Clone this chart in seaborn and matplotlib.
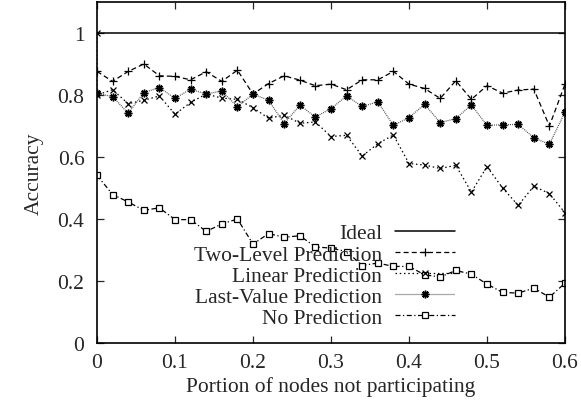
import matplotlib
matplotlib.use("Agg")
import matplotlib.pyplot as plt
import seaborn as sns
import pandas as pd
from matplotlib.ticker import FuncFormatter

# ---- data ----
x_vals = [0.00, 0.02, 0.04, 0.06, 0.08, 0.10, 0.12, 0.14, 0.16, 0.18,
          0.20, 0.22, 0.24, 0.26, 0.28, 0.30, 0.32, 0.34, 0.36, 0.38,
          0.40, 0.42, 0.44, 0.46, 0.48, 0.50, 0.52, 0.54, 0.56, 0.58, 0.60]
ideal_x = [0.0, 0.6]
ideal_y = [1.0, 1.0]
two_level = [0.876, 0.844, 0.876, 0.900, 0.862, 0.860, 0.849, 0.875, 0.844, 0.880,
             0.803, 0.837, 0.862, 0.848, 0.830, 0.835, 0.817, 0.849, 0.849, 0.876,
             0.835, 0.821, 0.789, 0.846, 0.786, 0.830, 0.806, 0.816, 0.819, 0.700, 0.835]
linear_x = [0.00] + x_vals
linear = [1.000, 0.800, 0.817, 0.772, 0.783, 0.797, 0.738, 0.776, 0.803, 0.790, 0.786,
          0.759, 0.725, 0.735, 0.709, 0.713, 0.666, 0.670, 0.603, 0.643, 0.671,
          0.579, 0.574, 0.563, 0.573, 0.487, 0.569, 0.500, 0.444, 0.506, 0.482, 0.420]
last_value = [0.805, 0.795, 0.741, 0.808, 0.824, 0.789, 0.819, 0.803, 0.813, 0.762,
              0.803, 0.783, 0.708, 0.767, 0.729, 0.756, 0.797, 0.763, 0.778, 0.702,
              0.727, 0.770, 0.711, 0.724, 0.768, 0.702, 0.704, 0.705, 0.662, 0.641, 0.745]
no_pred = [0.541, 0.479, 0.455, 0.428, 0.436, 0.398, 0.398, 0.360, 0.384, 0.400,
           0.319, 0.353, 0.341, 0.346, 0.310, 0.306, 0.295, 0.250, 0.258, 0.247,
           0.247, 0.220, 0.213, 0.234, 0.222, 0.190, 0.163, 0.161, 0.177, 0.148, 0.193]
labels = ["Ideal", "Two-Level Prediction", "Linear Prediction",
          "Last-Value Prediction", "No Prediction"]
x_ticks = [0, 0.1, 0.2, 0.3, 0.4, 0.5, 0.6]
y_ticks = [0, 0.2, 0.4, 0.6, 0.8, 1.0]

FS = 15.5
sns.set_style("ticks")
plt.rcParams["font.family"] = ["Liberation Serif", "DejaVu Serif"]
plt.rcParams["font.size"] = FS

fig = plt.figure(figsize=(5.81, 4.02), dpi=100)
ax = fig.add_axes([97 / 581, 1 - 344 / 402, 468 / 581, 341 / 402])

lw = 0.9
sns.lineplot(x=ideal_x, y=ideal_y, ax=ax, color="black", linewidth=1.1,
             label=labels[0], estimator=None, sort=False)
sns.lineplot(x=x_vals, y=two_level, ax=ax, color="black", linewidth=lw,
             linestyle=(0, (4, 2.5)), marker="+", markersize=6,
             markeredgewidth=0.9, markeredgecolor="black",
             label=labels[1], estimator=None, sort=False)
sns.lineplot(x=linear_x, y=linear, ax=ax, color="black", linewidth=lw,
             linestyle=(0, (1.2, 2.2)), marker="x", markersize=5,
             markeredgewidth=0.9, markeredgecolor="black",
             label=labels[2], estimator=None, sort=False)
sns.lineplot(x=x_vals, y=last_value, ax=ax, color="#555555", linewidth=lw,
             linestyle=(0, (0.8, 0.8)), marker=(8, 2, 0), markersize=5.5,
             markeredgewidth=1.1, markeredgecolor="black", markerfacecolor="black",
             label=labels[3], estimator=None, sort=False)
sns.lineplot(x=x_vals, y=no_pred, ax=ax, color="black", linewidth=lw,
             linestyle=(0, (4, 2, 1, 2)), marker="s", markersize=4.5,
             markeredgewidth=0.9, markerfacecolor="white", markeredgecolor="black",
             label=labels[4], estimator=None, sort=False)

ax.set_xlim(0, 0.6)
ax.set_ylim(0, 1.1)
ax.set_xticks(x_ticks)
ax.set_yticks(y_ticks)
fmt = FuncFormatter(lambda v, p: "%g" % round(v, 2))
ax.xaxis.set_major_formatter(fmt)
ax.yaxis.set_major_formatter(fmt)
ax.tick_params(direction="in", length=5, width=0.9, top=True, right=True,
               labelsize=FS)
ax.tick_params(axis="x", pad=7)
ax.tick_params(axis="y", pad=9)
for s in ax.spines.values():
    s.set_linewidth(1.2)
    s.set_color("black")
ax.set_xlabel("Portion of nodes not participating", fontsize=FS, labelpad=3)
ax.set_ylabel("Accuracy", fontsize=FS, labelpad=10)

leg = ax.legend(loc="lower right", bbox_to_anchor=(455 / 581, 1 - 329 / 402),
                bbox_transform=fig.transFigure, frameon=False, markerfirst=False,
                handlelength=2.8, handletextpad=0.6, labelspacing=0.05,
                borderpad=0, borderaxespad=0, numpoints=1, fontsize=FS)

fig.savefig("out.png", dpi=100)
